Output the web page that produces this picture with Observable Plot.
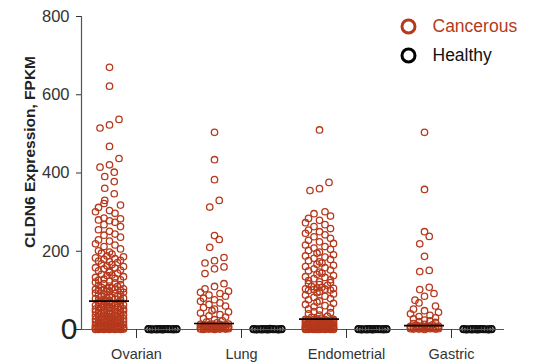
<!DOCTYPE html>
<html>
<head>
<meta charset="utf-8">
<script src="https://cdn.jsdelivr.net/npm/d3@7"></script>
<script src="https://cdn.jsdelivr.net/npm/@observablehq/plot@0.6"></script>
<style>
  html, body { margin: 0; padding: 0; background: #fff; }
</style>
</head>
<body>
<div id="chart"></div>
<script>
const categories = ["Ovarian", "Lung", "Endometrial", "Gastric"];
const groups = ["Cancerous", "Healthy"];
const yTicks = [0, 200, 400, 600, 800];

const ovarianCancer = [
  670, 622, 537, 523, 515, 468, 437, 421, 415, 402, 391, 378, 361, 347, 330, 322, 318, 312, 304, 301,
  297, 285, 283, 280, 278, 274, 268, 263, 255, 251, 244, 241, 236, 229, 226, 219, 216, 212, 206, 201,
  198, 195, 193, 188, 186, 183, 181, 179, 177, 175, 173, 171, 168, 166, 163, 161, 158, 157, 155, 152,
  150, 149, 146, 144, 141, 139, 138, 135, 133, 131, 129, 127, 126, 123, 121, 119, 117, 115, 113, 111,
  110, 108, 106, 105, 104, 103, 102, 101, 100, 100,
  98, 97, 95, 93, 92, 90, 89, 88, 86, 85, 84, 82, 81, 80, 79, 78, 77, 76, 75, 74,
  71, 70, 69, 69, 67, 66, 65, 64, 63, 62, 61, 60, 59, 58, 57, 57, 56, 55, 54, 53,
  52, 51, 50, 50, 49, 48, 47, 46, 45, 44, 43, 42, 41, 40, 40, 39, 38, 37, 36, 35,
  34, 33, 32, 31, 30, 30, 29, 28, 27, 26, 25, 25, 24, 23, 22, 21, 20, 20, 19, 18,
  17, 16, 15, 15, 14, 13, 12, 12, 11, 10, 10, 9, 9, 8, 8, 7, 7, 6, 6, 5,
  5, 5, 4, 4, 4, 3, 3, 3, 3, 2, 2, 2, 2, 1, 1, 1, 1, 1, 0, 0,
  0, 0, 0, 0, 2, 6, 11, 18, 24, 33
];
const lungCancer = [
  504, 434, 383, 330, 313, 240, 230, 210, 184, 176, 170, 160, 155, 143, 117, 110,
  104, 98, 95, 92, 88, 85, 80, 76, 72, 68, 64, 60, 56, 52, 48, 45, 42, 38, 35, 32, 28, 25, 22, 19, 17,
  14, 14, 13, 13, 12, 12, 11, 11, 10, 10, 9, 9, 8, 8, 8, 7, 7, 7, 6, 6, 6, 5, 5, 5,
  4, 4, 4, 3, 3, 3, 3, 2, 2, 2, 2, 1, 1, 1, 1, 0, 0
];
const endometrialCancer = [
  510, 376, 360, 355, 301, 296, 290, 284, 279, 273, 268, 263, 258, 254, 250, 246, 242, 237, 233, 228,
  224, 220, 216, 212, 208, 205, 202,
  198, 195, 191, 188, 185, 182, 179, 176, 173, 170, 167, 164, 161, 158, 155, 152, 150, 147, 144, 141,
  138, 135, 133, 130, 127, 125, 122, 120, 117, 115, 113, 110, 108, 106, 105, 104, 103, 102, 101, 100,
  97, 94, 91, 88, 85, 82, 79, 76, 73, 70, 67, 64, 61, 58, 55, 52, 49, 46, 43, 40, 37, 34, 31, 29, 27,
  26, 25, 25, 24, 24, 23, 23, 22, 22, 21, 21, 20, 20, 20, 19, 19, 18, 18, 17, 17,
  16, 16, 15, 15, 15, 14, 14, 13, 13, 12, 12, 12, 11, 11, 10, 10, 10, 9, 9, 9,
  8, 8, 8, 7, 7, 7, 6, 6, 6, 6, 5, 5, 5, 5, 4, 4, 4, 4, 3, 3,
  3, 3, 3, 2, 2, 2, 2, 2, 1, 1, 1, 1, 1, 1, 0, 0, 0, 0, 0, 0,
  0, 0, 1, 2, 3, 5, 8, 12, 16, 21, 24, 26
];
const gastricCancer = [
  504, 358, 250, 238, 219, 187, 151, 148, 108, 102,
  92, 85, 75, 68, 60, 52, 48, 44, 40, 36, 33, 30, 27, 24, 22, 20, 18, 15, 13, 12, 11,
  9, 9, 9, 8, 8, 8, 7, 7, 7, 6, 6, 6, 5, 5, 5, 5, 4, 4, 4, 4, 3, 3, 3, 3, 2, 2, 2, 1, 1, 1, 0
];
const ovarianHealthy = [0.2, 0.5, 0.8, 1.0, 1.2, 1.5, 0.3, 0.6, 0.9, 1.1, 0.4, 0.7, 1.3, 0.1, 0.45, 0.85, 1.15, 0.25, 0.65, 1.05];
const lungHealthy = [0.3, 0.6, 0.9, 1.1, 1.4, 0.2, 0.5, 0.8, 1.0, 1.2, 0.4, 0.7, 1.6, 0.1, 0.35, 0.75, 1.25, 0.15, 0.55, 0.95];
const endometrialHealthy = [0.4, 0.7, 1.0, 1.3, 0.2, 0.5, 0.8, 1.1, 1.5, 0.3, 0.6, 0.9, 1.2, 0.1, 0.45, 0.85, 1.15, 0.25, 0.65, 1.05];
const gastricHealthy = [0.5, 0.8, 1.1, 1.4, 0.3, 0.6, 0.9, 1.2, 0.2, 0.4, 0.7, 1.0, 1.3, 0.1, 0.35, 0.75, 1.25, 0.15, 0.55, 0.95];

const cancerSeries = [ovarianCancer, lungCancer, endometrialCancer, gastricCancer];
const healthySeries = [ovarianHealthy, lungHealthy, endometrialHealthy, gastricHealthy];

// layout
const W = 533, H = 364, mL = 81, mR = 29, mT = 16, mB = 35;
const ppu = 105;                       // pixels per category step
const x0 = -(136 - mL) / ppu;
const x1 = x0 + (W - mL - mR) / ppu;
const RED = "#b5391d";
const FONT = "'Liberation Sans', Arial, Helvetica, sans-serif";

// scatter-style jitter (pixels), GraphPad-like
const BIN = 24;
const SLOTS = [0, -11, 11, -5.5, 5.5, -14, 14, -2.5, 2.5, -8, 8];
function jitter(values) {
  const idx = d3.range(values.length).sort((a, b) => values[a] - values[b]);
  const off = new Array(values.length);
  let i = 0;
  while (i < idx.length) {
    const start = values[idx[i]];
    let j = i;
    while (j < idx.length && values[idx[j]] - start < BIN) j++;
    const k = j - i;
    for (let m = 0; m < k; m++) {
      off[idx[i + m]] = k <= 3 ? (m - (k - 1) / 2) * 9.5 : SLOTS[m % SLOTS.length];
    }
    i = j;
  }
  return off;
}

const groupOffset = {Cancerous: -27, Healthy: 26};
const rows = [];
const medians = [];
categories.forEach((cat, ci) => {
  [["Cancerous", cancerSeries[ci]], ["Healthy", healthySeries[ci]]].forEach(([g, vals]) => {
    const off = jitter(vals);
    vals.forEach((v, k) => rows.push({cat, group: g, value: v, x: ci + (groupOffset[g] + off[k]) / ppu}));
    const c = ci + groupOffset[g] / ppu;
    medians.push({cat, group: g, median: d3.median(vals), xa: c - 20 / ppu, xb: c + 20 / ppu});
  });
});

const chart = Plot.plot({
  width: W, height: H,
  marginLeft: mL, marginRight: mR, marginTop: mT, marginBottom: mB,
  x: {domain: [x0, x1], axis: null},
  y: {domain: [0, 800], axis: null},
  style: {fontFamily: FONT, background: "#fff", overflow: "visible"},
  marks: [
    Plot.dot(rows.filter(d => d.group === "Healthy"), {x: "x", y: "value", r: 3.2, stroke: "#111", strokeWidth: 1.6, fill: "none"}),
    Plot.dot(rows.filter(d => d.group === "Cancerous"), {x: "x", y: "value", r: 3.2, stroke: RED, strokeWidth: 1.3, fill: "none"}),
    Plot.ruleY(medians.filter(d => d.group === "Cancerous"), {y: "median", x1: "xa", x2: "xb", stroke: "#000", strokeWidth: 1.6}),
    Plot.ruleY([0], {stroke: "#555", strokeWidth: 1.2}),
    Plot.ruleX([x0], {stroke: "#555", strokeWidth: 1.2}),
    Plot.axisX({ticks: [0, 1, 2, 3], tickFormat: i => categories[i], tickSize: 9, tickPadding: 10, fontSize: 14.5, color: "#333", label: null}),
    Plot.axisY({ticks: yTicks, tickFormat: d => d === 0 ? "" : d, tickSize: 5, tickPadding: 7, fontSize: 16.5, color: "#333", label: null}),
    Plot.text([{v: yTicks[0]}], {x: () => x0, y: "v", text: d => String(d.v), dx: -4, textAnchor: "end", lineAnchor: "middle", fontSize: 30, fill: "#222"}),
    Plot.text(["CLDN6 Expression, FPKM"], {frameAnchor: "left", text: d => d, rotate: -90, dx: -51, dy: -21, fontSize: 15.5, fontWeight: "bold", fill: "#222", textAnchor: "middle", lineAnchor: "middle"}),
    Plot.dot([groups[0]], {frameAnchor: "top-left", dx: 408 - mL, dy: 26 - mT, r: 6.5, stroke: RED, strokeWidth: 3, fill: "none"}),
    Plot.dot([groups[1]], {frameAnchor: "top-left", dx: 408 - mL, dy: 55 - mT, r: 6.5, stroke: "#000", strokeWidth: 3, fill: "none"}),
    Plot.text([groups[0]], {frameAnchor: "top-left", text: d => d, dx: 432 - mL, dy: 26 - mT, textAnchor: "start", lineAnchor: "middle", fontSize: 17.5, fill: RED}),
    Plot.text([groups[1]], {frameAnchor: "top-left", text: d => d, dx: 432 - mL, dy: 55 - mT, textAnchor: "start", lineAnchor: "middle", fontSize: 17.5, fill: "#111"})
  ]
});
document.getElementById("chart").appendChild(chart);
</script>
</body>
</html>
